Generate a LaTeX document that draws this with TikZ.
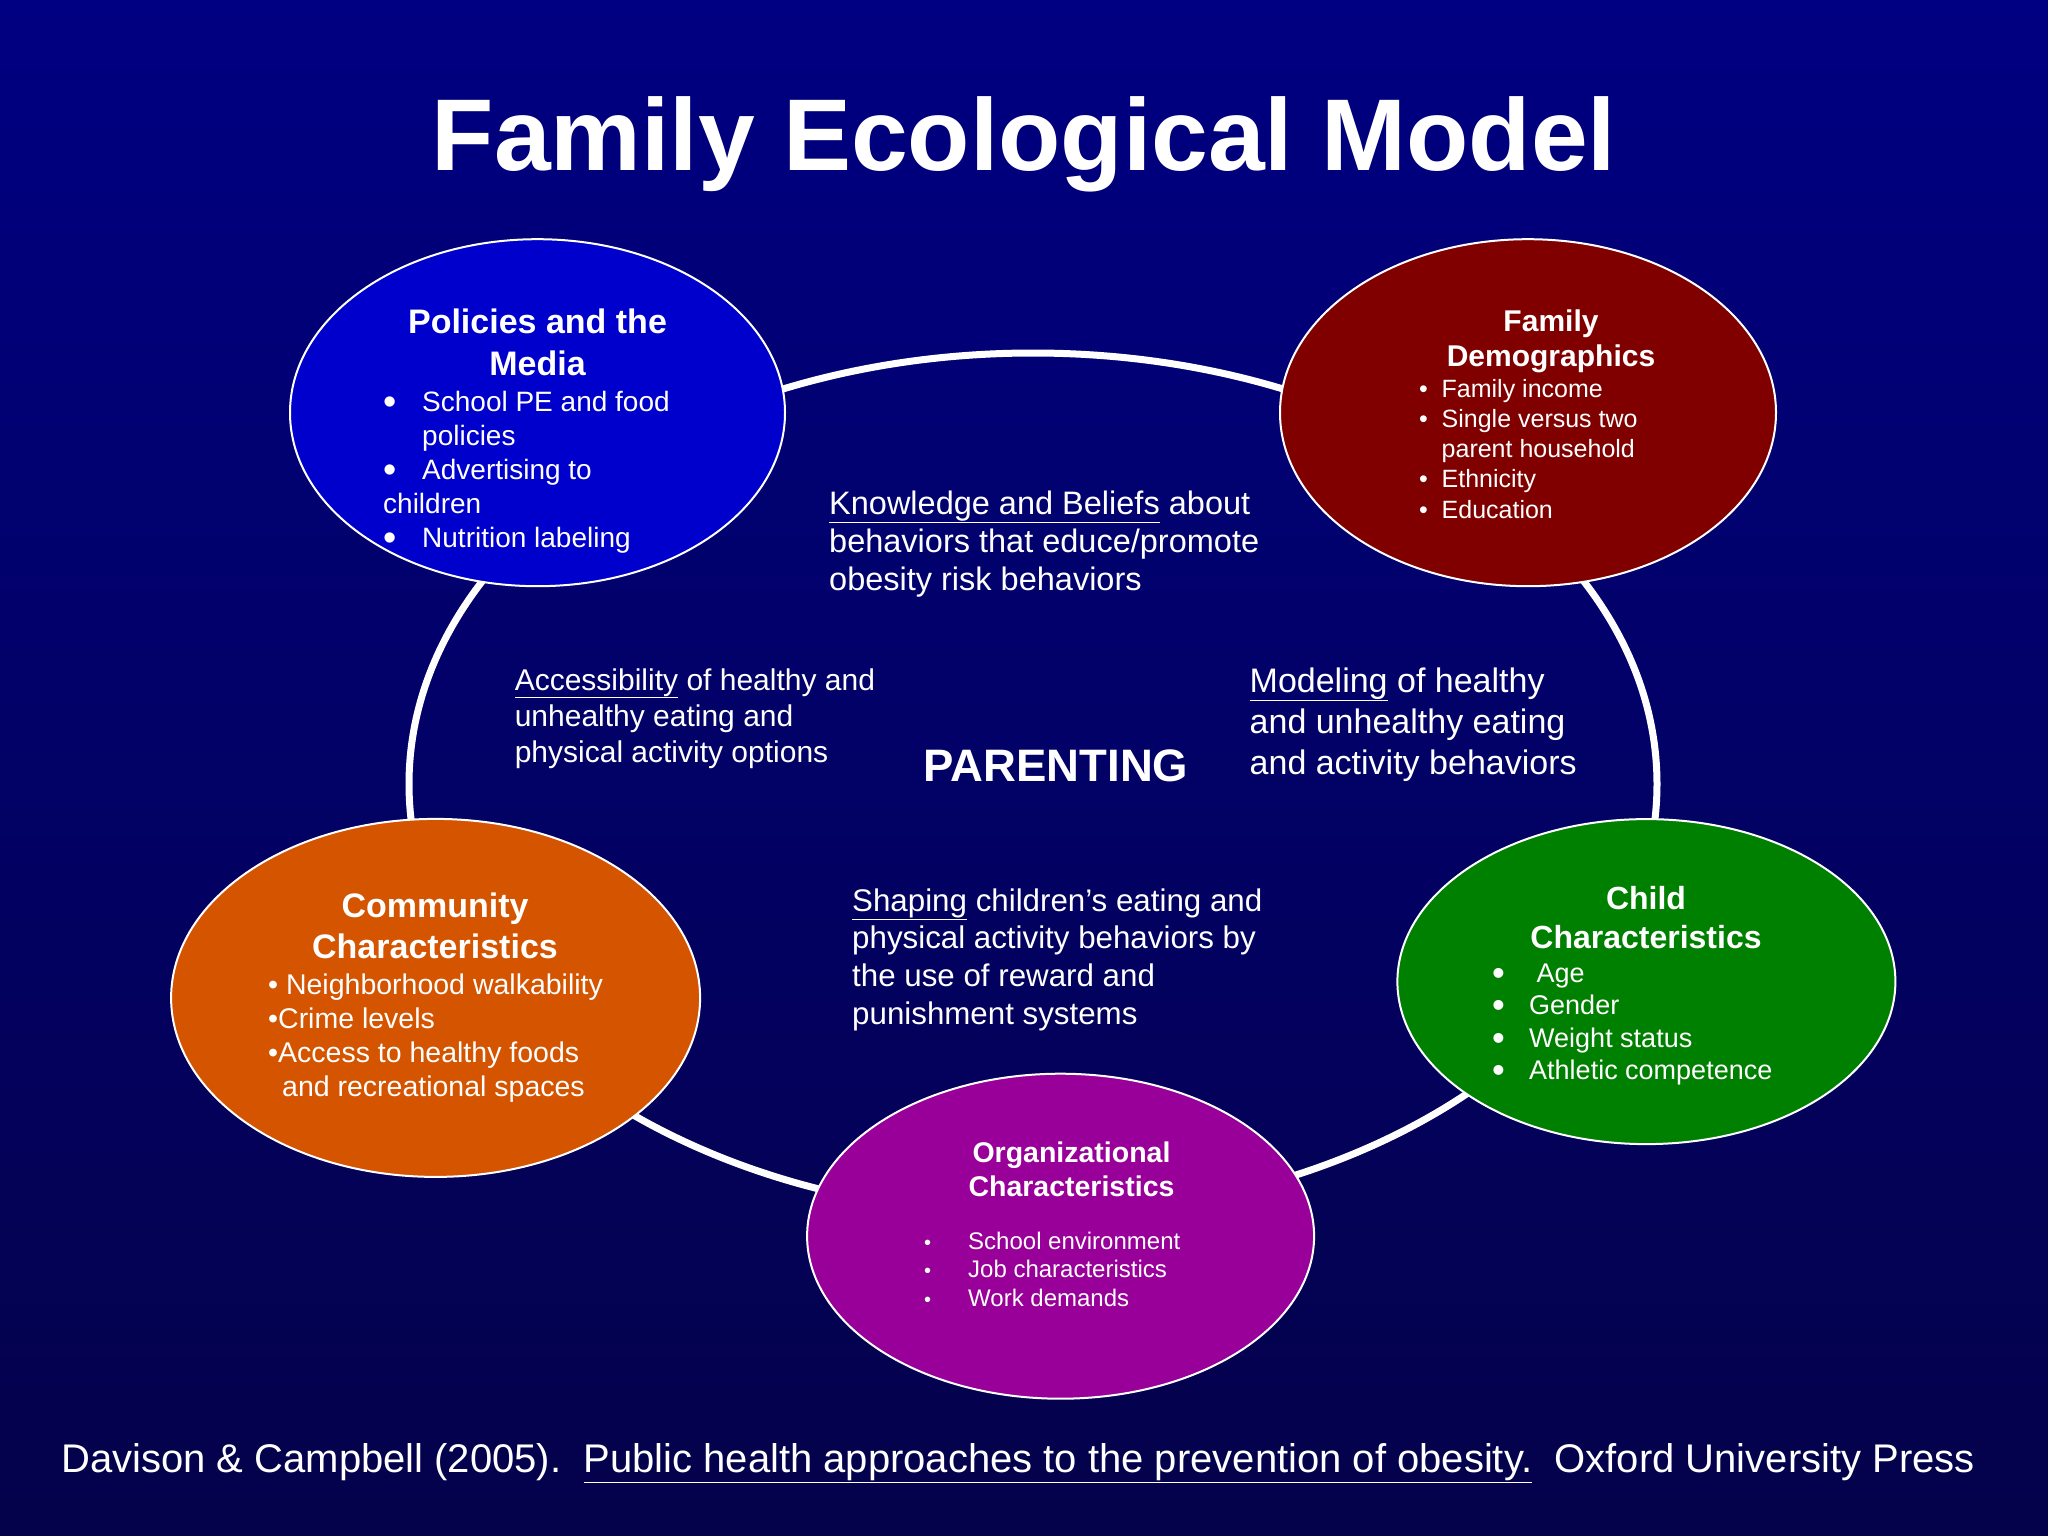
\documentclass[tikz,border=0pt]{standalone}
\usepackage{fontspec}
\setmainfont{Liberation Sans}
\usetikzlibrary{shapes.geometric}
\definecolor{bgtop}{RGB}{0,0,130}
\definecolor{bgbot}{RGB}{4,2,74}
\definecolor{polblue}{RGB}{0,0,204}
\definecolor{famred}{RGB}{128,0,0}
\definecolor{comorange}{RGB}{212,84,0}
\definecolor{chigreen}{RGB}{0,128,0}
\definecolor{orgpurple}{RGB}{153,0,153}
\newcommand{\fs}[2]{\fontsize{#1}{#2}\selectfont}
\newcommand{\blt}[1]{\makebox[#1][l]{•}}
\newcommand{\bigblt}[1]{\makebox[#1][l]{\raisebox{-3.4pt}{\scalebox{1.35}{•}}}}
\newcommand{\ind}[1]{\hspace*{#1}}
\begin{document}
\begin{tikzpicture}[x=1pt,y=-1pt,
  blob/.style={ellipse, draw=white, line width=2pt, inner sep=0pt},
  txt/.style={anchor=base west, inner sep=0pt, text=white},
  ctxt/.style={anchor=base, inner sep=0pt, text=white}]
\path[use as bounding box] (0,0) rectangle (2048,1536);
\shade[top color=bgtop, bottom color=bgbot] (0,0) rectangle (2048,1536);

% ring
\coordinate (ringc) at (1033,784);
\draw[white, line width=7pt] (ringc) ellipse [x radius=624pt, y radius=431pt];

% ellipses
\node[blob, fill=polblue, minimum width=495pt, minimum height=347pt] (pol) at (537.5,412.7) {};
\node[blob, fill=famred, minimum width=496pt, minimum height=347pt] (fam) at (1528,412.7) {};
\node[blob, fill=comorange, minimum width=529pt, minimum height=358pt] (com) at (435.6,997.9) {};
\node[blob, fill=chigreen, minimum width=498pt, minimum height=325pt] (chi) at (1646.4,981.6) {};
\node[blob, fill=orgpurple, minimum width=507pt, minimum height=325pt] (org) at (1060.6,1236.2) {};

% title
\node[ctxt] (title) at (1024,170) {\fs{102}{110}\bfseries Family Ecological Model};

% Policies
\node[ctxt] (poltitle) at (537.5,333.5) {\parbox[t]{400pt}{\centering\fs{34}{42}\bfseries Policies and the\\Media}};
\node[txt] (politems) at (383,411) {\parbox[t]{400pt}{\fs{28}{34}%
\bigblt{39pt}School PE and food\\
\ind{39pt}policies\\
\bigblt{39pt}Advertising to\\
children\\
\bigblt{39pt}Nutrition labeling}};

% Family demographics
\node[ctxt] (famtitle) at (1551,331) {\parbox[t]{400pt}{\centering\fs{30}{35.5}\bfseries Family\\Demographics}};
\node[txt] (famitems) at (1419,397) {\parbox[t]{400pt}{\fs{25}{30.3}%
\blt{22.5pt}Family income\\
\blt{22.5pt}Single versus two\\
\ind{22.5pt}parent household\\
\blt{22.5pt}Ethnicity\\
\blt{22.5pt}Education}};

% Community
\node[ctxt] (comtitle) at (435,917) {\parbox[t]{500pt}{\centering\fs{34}{41}\bfseries Community\\Characteristics}};
\node[txt] (comitems) at (268,994) {\parbox[t]{500pt}{\fs{28.5}{34}%
• Neighborhood walkability\\
•Crime levels\\
•Access to healthy foods\\
\phantom{•}\hspace*{4pt}and recreational spaces}};

% Child
\node[ctxt] (chititle) at (1646,909.5) {\parbox[t]{400pt}{\centering\fs{32}{38.5}\bfseries Child\\Characteristics}};
\node[txt] (chiitems) at (1492,982) {\parbox[t]{400pt}{\fs{27}{32.5}%
\bigblt{37pt}\ Age\\
\bigblt{37pt}Gender\\
\bigblt{37pt}Weight status\\
\bigblt{37pt}Athletic competence}};

% Organizational
\node[ctxt] (orgtitle) at (1071.5,1162) {\parbox[t]{400pt}{\centering\fs{28.5}{34}\bfseries Organizational\\Characteristics}};
\node[txt] (orgitems) at (924,1249) {\parbox[t]{400pt}{\fs{24}{28.8}%
\makebox[44pt][l]{\fs{20}{20}•}School environment\\
\makebox[44pt][l]{\fs{20}{20}•}Job characteristics\\
\makebox[44pt][l]{\fs{20}{20}•}Work demands}};

% central texts
\node[txt] (know) at (829,514) {\parbox[t]{600pt}{\fs{32.5}{38.3}%
\underline{Knowledge and Beliefs} about\\
behaviors that educe/promote\\
obesity risk behaviors}};
\node[txt] (access) at (514.6,690) {\parbox[t]{500pt}{\fs{30}{36}%
\underline{Accessibility} of healthy and\\
unhealthy eating and\\
physical activity options}};
\node[txt] (model) at (1249.5,692) {\parbox[t]{500pt}{\fs{34}{41}%
\underline{Modeling} of healthy\\
and unhealthy eating\\
and activity behaviors}};
\node[ctxt] (parent) at (1056,781.5) {\fs{45.5}{50}\bfseries PARENTING};
\node[txt] (shape) at (852,911) {\parbox[t]{600pt}{\fs{31.3}{37.8}%
\underline{Shaping} children’s eating and\\
physical activity behaviors by\\
the use of reward and\\
punishment systems}};

% footer
\node[txt] (cite) at (61,1472) {\fs{40}{46}Davison \& Campbell (2005).\ \ \underline{Public health approaches to the prevention of obesity.}\ \ Oxford University Press};
\end{tikzpicture}
\end{document}
